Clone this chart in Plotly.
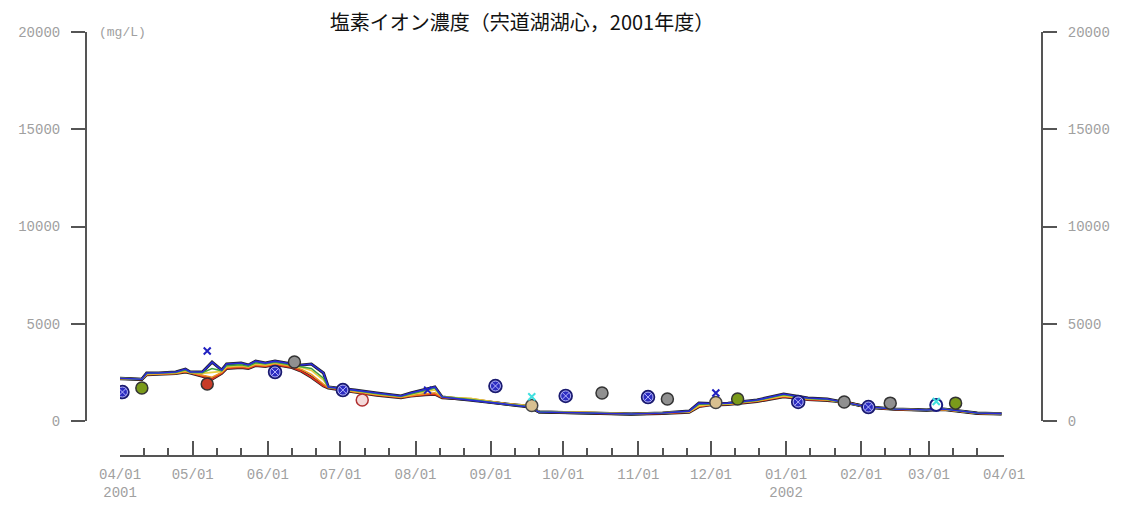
import plotly.graph_objects as go

# daily-ish readings of the continuous records (several depths)
LINE_DATES = [
    "2001-04-01", "2001-04-10", "2001-04-12", "2001-04-17", "2001-04-24", "2001-04-28",
    "2001-04-30", "2001-05-05", "2001-05-09", "2001-05-13", "2001-05-15", "2001-05-21",
    "2001-05-24", "2001-05-27", "2001-05-31", "2001-06-04", "2001-06-11", "2001-06-15",
    "2001-06-19", "2001-06-24", "2001-06-26", "2001-06-30", "2001-07-07", "2001-07-16",
    "2001-07-26", "2001-07-30", "2001-08-05", "2001-08-09", "2001-08-12", "2001-08-24",
    "2001-09-07", "2001-09-17", "2001-09-21", "2001-10-12", "2001-10-29", "2001-11-11",
    "2001-11-22", "2001-11-26", "2001-12-01", "2001-12-08", "2001-12-20", "2001-12-31",
    "2002-01-10", "2002-01-18", "2002-01-26", "2002-02-04", "2002-02-15", "2002-02-28",
    "2002-03-07", "2002-03-21", "2002-03-31",
]
BLUE = [2200, 2150, 2470, 2470, 2520, 2670, 2520, 2520, 3030, 2620, 2930, 2980, 2880, 3080,
        2980, 3080, 2930, 2880, 2930, 2470, 1750, 1700, 1590, 1440, 1290, 1440, 1650, 1750,
        1230, 1080, 870, 720, 460, 410, 360, 410, 510, 920, 900, 920, 1080, 1390, 1180, 1130,
        920, 720, 620, 570, 620, 410, 380]
GREEN = [2190, 2150, 2440, 2460, 2500, 2620, 2500, 2480, 2700, 2580, 2850, 2900, 2820, 3000,
         2930, 3020, 2880, 2800, 2700, 2200, 1730, 1690, 1570, 1400, 1270, 1400, 1600, 1700,
         1240, 1100, 870, 740, 470, 420, 360, 410, 500, 860, 880, 900, 1060, 1350, 1160, 1110,
         930, 720, 620, 570, 615, 405, 375]
YELLOW = [2200, 2150, 2420, 2450, 2480, 2600, 2500, 2450, 2500, 2550, 2800, 2850, 2800, 2950,
          2900, 3000, 2850, 2750, 2600, 2100, 1750, 1680, 1550, 1380, 1250, 1350, 1500, 1600,
          1250, 1150, 880, 780, 480, 450, 370, 420, 480, 800, 850, 880, 1050, 1300, 1150, 1100,
          930, 720, 620, 570, 610, 400, 380]
ORANGE = [2180, 2150, 2400, 2430, 2450, 2550, 2480, 2350, 2250, 2500, 2750, 2800, 2750, 2900,
          2850, 2950, 2800, 2650, 2400, 1900, 1720, 1650, 1500, 1350, 1220, 1300, 1400, 1450,
          1220, 1150, 900, 780, 470, 440, 360, 400, 460, 760, 850, 870, 1030, 1280, 1130, 1080,
          950, 710, 610, 570, 600, 400, 370]
RED = [2170, 2140, 2380, 2420, 2440, 2520, 2470, 2300, 2150, 2450, 2700, 2750, 2700, 2850,
       2800, 2900, 2750, 2550, 2250, 1800, 1700, 1620, 1480, 1330, 1200, 1280, 1350, 1380,
       1200, 1100, 880, 760, 460, 420, 350, 390, 450, 740, 830, 850, 1000, 1250, 1100, 1060,
       960, 700, 600, 560, 590, 390, 360]

# spot samples
BLUE_DOT_DATES = ["2001-04-02", "2001-06-04", "2001-07-02", "2001-09-03", "2001-10-02",
                  "2001-11-05", "2002-01-06", "2002-02-04"]
BLUE_DOT_VALS = [1490, 2520, 1590, 1800, 1290, 1230, 980, 720]
OLIVE_DATES = ["2001-04-10", "2001-12-12", "2002-03-12"]
OLIVE_VALS = [1700, 1130, 920]
GRAY_DATES = ["2001-06-12", "2001-10-17", "2001-11-13", "2002-01-25", "2002-02-13"]
GRAY_VALS = [3030, 1440, 1130, 980, 920]
RED_DOT_DATES = ["2001-05-07"]
RED_DOT_VALS = [1900]
PINK_DATES = ["2001-07-10"]
PINK_VALS = [1080]
TAN_DATES = ["2001-09-18", "2001-12-03"]
TAN_VALS = [800, 950]
HOLLOW_DATES = ["2002-03-04"]
HOLLOW_VALS = [820]
BLUE_X_DATES = ["2001-05-07", "2001-08-06", "2001-12-03"]
BLUE_X_VALS = [3600, 1590, 1440]
CYAN_X_DATES = ["2001-09-18", "2002-03-04"]
CYAN_X_VALS = [1250, 1000]

MONTHS = ["2001-04-01", "2001-05-01", "2001-06-01", "2001-07-01", "2001-08-01", "2001-09-01",
          "2001-10-01", "2001-11-01", "2001-12-01", "2002-01-01", "2002-02-01", "2002-03-01",
          "2002-04-01"]
MONTH_LABELS = ["04/01<br>2001", "05/01", "06/01", "07/01", "08/01", "09/01", "10/01",
                "11/01", "12/01", "01/01<br>2002", "02/01", "03/01", "04/01"]
MINOR = [m[:8] + d for m in MONTHS[:-1] for d in ("11", "21")]
Y_TICKS = [0, 5000, 10000, 15000, 20000]

GREY_TXT = "#a0a0a0"
AXIS_COL = "#555555"
MONO = "Liberation Mono"

fig = go.Figure()

for vals in (RED, BLUE):
    fig.add_trace(go.Scatter(x=LINE_DATES, y=vals, mode="lines",
                             line=dict(color="#222222", width=3)))
for vals, col in ((RED, "#e03020"), (ORANGE, "#f09020"), (YELLOW, "#e8d040"),
                  (GREEN, "#40a040"), (BLUE, "#2a2ad8")):
    fig.add_trace(go.Scatter(x=LINE_DATES, y=vals, mode="lines",
                             line=dict(color=col, width=1.6)))


def dots(dates, vals, fill, edge, symbol="circle", size=12, width=1.5):
    fig.add_trace(go.Scatter(x=dates, y=vals, mode="markers",
                             marker=dict(symbol=symbol, size=size, color=fill,
                                         line=dict(color=edge, width=width))))


dots(BLUE_DOT_DATES, BLUE_DOT_VALS, "#1a1a70", "#1a1a70", size=13)
dots(BLUE_DOT_DATES, BLUE_DOT_VALS, "#2c2cc0", "#b8b8ff", symbol="circle-x", size=10, width=1)
dots(OLIVE_DATES, OLIVE_VALS, "#7a9a1a", "#333333")
dots(GRAY_DATES, GRAY_VALS, "#909090", "#333333")
dots(RED_DOT_DATES, RED_DOT_VALS, "#c83c28", "#333333")
dots(PINK_DATES, PINK_VALS, "#f4dada", "#b03030")
dots(TAN_DATES, TAN_VALS, "#d8c090", "#444444")
dots(HOLLOW_DATES, HOLLOW_VALS, "#ffffff", "#1a1a80", width=2)
dots(BLUE_X_DATES, BLUE_X_VALS, "#2020c0", "#2020c0", symbol="x-thin", size=7, width=2)
dots(CYAN_X_DATES, CYAN_X_VALS, "#40e0e0", "#40e0e0", symbol="x-thin", size=7, width=2)

# invisible copy on the right axis so that it gets drawn
fig.add_trace(go.Scatter(x=LINE_DATES, y=BLUE, yaxis="y2", mode="lines",
                         line=dict(width=0), opacity=0, hoverinfo="skip"))

yax = dict(range=[0, 20000], tickmode="array", tickvals=Y_TICKS,
           ticktext=[str(v) for v in Y_TICKS],
           domain=[0.0825, 1], anchor="free", showgrid=False, zeroline=False,
           showline=True, linecolor=AXIS_COL, linewidth=2, ticks="outside",
           ticklen=14, tickwidth=2, tickcolor=AXIS_COL, ticklabelstandoff=8,
           tickfont=dict(family=MONO, size=14, color=GREY_TXT), fixedrange=True)

# the page body adds an 8px offset, so margins are shifted to compensate
fig.update_layout(
    width=1125, height=506,
    margin=dict(l=78, r=91, t=24, b=58, autoexpand=False),
    plot_bgcolor="white", paper_bgcolor="white",
    showlegend=False,
    title=dict(text="塩素イオン濃度（宍道湖湖心，2001年度）", x=514 / 1125, xref="container",
               xanchor="center", y=1 - 15 / 506, yref="container", yanchor="middle",
               font=dict(family="Noto Sans CJK JP", size=20, color="#111111")),
    xaxis=dict(range=["2001-04-01", "2002-04-01"], domain=[0.0356, 0.9603],
               anchor="free", position=0, showgrid=False, zeroline=False,
               showline=True, linecolor=AXIS_COL, linewidth=2,
               tickmode="array", tickvals=MONTHS, ticktext=MONTH_LABELS,
               ticks="inside", ticklen=14, tickwidth=2, tickcolor=AXIS_COL,
               ticklabelstandoff=5,
               tickfont=dict(family=MONO, size=14, color=GREY_TXT),
               minor=dict(tickmode="array", tickvals=MINOR, ticks="inside",
                          ticklen=7, tickwidth=2, tickcolor=AXIS_COL)),
    yaxis=dict(**yax, position=0, side="left"),
    yaxis2=dict(**yax, position=1, side="right", overlaying="y"),
    annotations=[dict(text="(mg/L)", x=(97 - 86) / 956, y=1, xref="paper", yref="paper",
                      showarrow=False, xanchor="left", yanchor="middle",
                      font=dict(family=MONO, size=13, color=GREY_TXT))],
)

fig.write_html("out.html")
